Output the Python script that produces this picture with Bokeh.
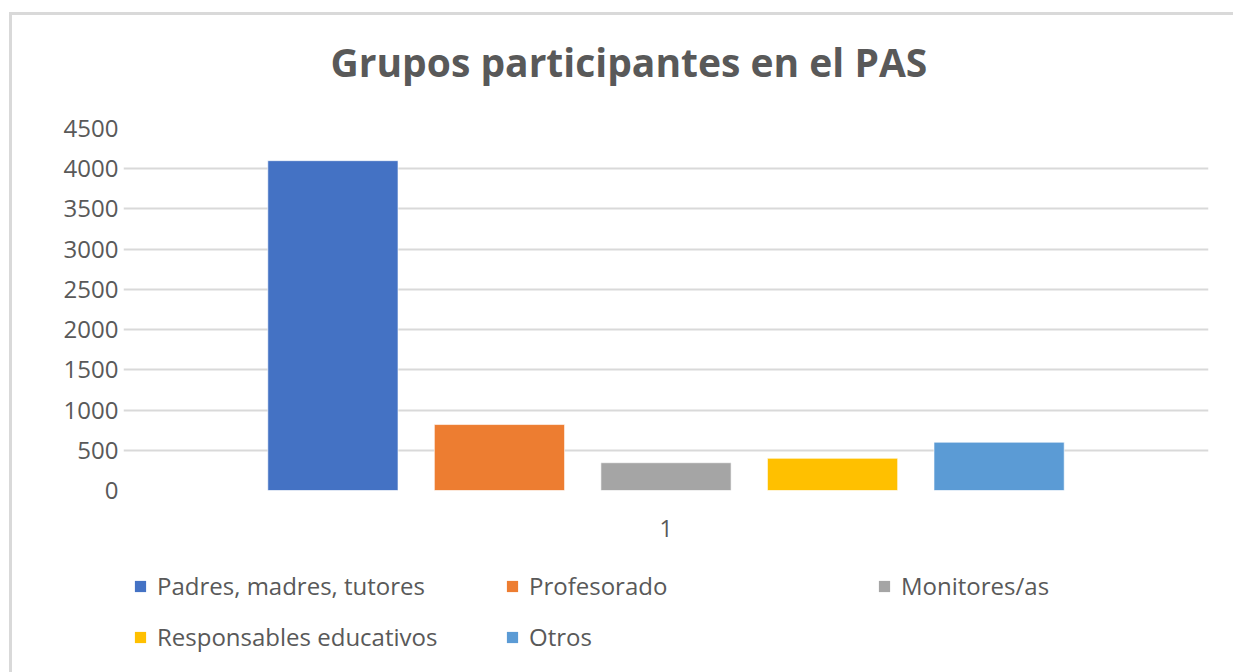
from bokeh.plotting import figure
from bokeh.layouts import column
from bokeh.models import (ColumnDataSource, FactorRange, Range1d, FixedTicker,
                          Legend, LegendItem)
from bokeh.transform import dodge
from bokeh.embed import file_html
from bokeh.resources import INLINE

# ---- data ----
categories = ["1"]
series_names = ["Padres, madres, tutores", "Profesorado", "Monitores/as",
                "Responsables educativos", "Otros"]
series_values = [4100, 820, 345, 400, 600]
series_colors = ["#4472C4", "#ED7D31", "#A5A5A5", "#FFC000", "#5B9BD5"]
y_ticks = [0, 500, 1000, 1500, 2000, 2500, 3000, 3500, 4000, 4500]
title_text = "Grupos participantes en el PAS"

FONT = "Open Sans"
TXT = "#595959"
W = 1221

# ---- title strip ----
tfig = figure(width=W, height=93, x_range=Range1d(0, 1), y_range=Range1d(0, 1),
              x_axis_type=None, y_axis_type=None, output_backend="svg",
              toolbar_location=None, min_border_top=77, min_border_bottom=0,
              min_border_left=0, min_border_right=0)
tfig.grid.visible = False
tfig.outline_line_color = None
tfig.title.text = title_text
tfig.title.align = "left"
tfig.title.offset = 207
tfig.title.standoff = 10
tfig.title.text_font = FONT
tfig.title.text_font_size = "39px"
tfig.title.text_font_style = "bold"
tfig.title.text_color = TXT

# ---- main chart ----
p = figure(frame_width=1085, frame_height=362,
           x_range=FactorRange(factors=categories),
           y_range=Range1d(0, 4500), output_backend="svg",
           toolbar_location=None, min_border_left=111, min_border_right=25,
           min_border_top=20, min_border_bottom=60)
p.outline_line_color = None

data = {"x": categories}
for i, v in enumerate(series_values):
    data[f"s{i}"] = [v]
src = ColumnDataSource(data)

offsets = [-0.307, -0.1535, 0.0, 0.1535, 0.307]
for i, name in enumerate(series_names):
    p.vbar(x=dodge("x", offsets[i], range=p.x_range), top=f"s{i}",
           width=0.12, source=src, fill_color=series_colors[i],
           line_color="white", line_width=1, line_alpha=0.6)

p.xgrid.grid_line_color = None
p.ygrid.grid_line_color = "#d9d9d9"
p.ygrid.grid_line_width = 2

p.yaxis.ticker = FixedTicker(ticks=y_ticks)
p.yaxis.axis_line_color = None
p.yaxis.major_tick_line_color = None
p.yaxis.major_tick_out = 0
p.yaxis.minor_tick_line_color = None
p.yaxis.minor_tick_out = 0
p.yaxis.major_label_text_font = FONT
p.yaxis.major_label_text_font_size = "24px"
p.yaxis.major_label_text_color = TXT
p.yaxis.major_label_standoff = 5

p.xaxis.axis_line_color = None
p.xaxis.major_tick_line_color = None
p.xaxis.major_tick_out = 0
p.xaxis.major_label_text_font = FONT
p.xaxis.major_label_text_font_size = "23px"
p.xaxis.major_label_text_color = TXT
p.xaxis.major_label_standoff = 29

# ---- legend strip (swatches only; placed off-view) ----
lfig = figure(width=W, height=122, x_range=Range1d(0, 1), y_range=Range1d(0, 1),
              x_axis_type=None, y_axis_type=None, output_backend="svg",
              toolbar_location=None, min_border=0)
lfig.grid.visible = False
lfig.outline_line_color = None
items = []
for i, name in enumerate(series_names):
    r = lfig.vbar(x=[-10], top=[0], width=0.1, fill_color=series_colors[i],
                  line_color=None)
    items.append(LegendItem(label=name, renderers=[r]))

legend = Legend(items=items, orientation="horizontal", ncols=3,
                location=(10, 19), margin=0, padding=0,
                glyph_width=14, glyph_height=14, label_standoff=10,
                label_width=330, spacing=18,
                label_text_font=FONT, label_text_font_size="24px",
                label_text_color=TXT, border_line_color=None,
                background_fill_alpha=0)
lfig.add_layout(legend)

layout = column(tfig, p, lfig, spacing=0,
                styles={"border-top": "3px solid #d9d9d9",
                        "border-left": "3px solid #d9d9d9",
                        "margin-left": "9px", "margin-top": "12px"})

open("out.html", "w").write(file_html(layout, INLINE))
